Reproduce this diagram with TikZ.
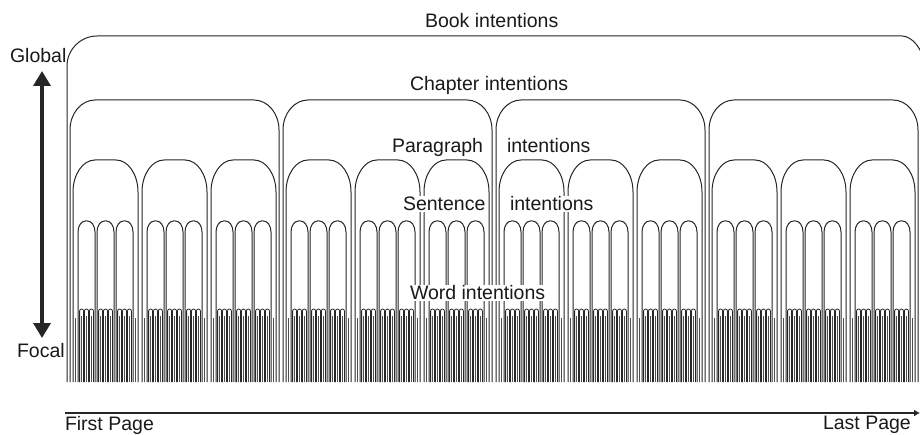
\documentclass[tikz,border=0pt]{standalone}
\usepackage{fontspec}
\newfontfamily\labfont{Liberation Sans}
\usetikzlibrary{arrows.meta}
\newcommand\archshape[7][]{%
  \draw[#1] (#2,#7) -- (#2,#5)
    .. controls (#2,{#5-0.552*(#5-#4)}) and ({#2+0.448*#6},#4) .. ({#2+#6},#4)
    -- ({#3-#6},#4)
    .. controls ({#3-0.448*#6},#4) and (#3,{#5-0.552*(#5-#4)}) .. (#3,#5)
    -- (#3,#7);}
\begin{document}
\begin{tikzpicture}[x=1pt,y=-1pt,
  archline/.style={draw=black!85,line width=1pt},
  wordline/.style={draw=black!85,line width=0.8pt},
  lab/.style={font=\labfont\fontsize{19.5}{23}\selectfont,text=black!90,inner sep=1pt,outer sep=0pt,anchor=base west},
  labw/.style={lab,fill=white}]
\useasboundingbox (0,0) rectangle (920,435);
% book arch
\draw[archline] (67,382) -- (67,66)
  .. controls (67,{66-0.552*30}) and ({67+0.448*30},36) .. (97,36)
  -- (902,36)
  .. controls ({902+0.448*22},36) and (924,{66-0.552*30}) .. (924,66) -- (924,382);
% chapters, paragraphs, sentences, words
\foreach \c in {0,...,3} {
  \pgfmathsetmacro\cl{70+213*\c}
  \pgfmathsetmacro\cr{\cl+209}
  \archshape[archline]{\cl}{\cr}{100}{130}{25}{382}
  \foreach \p in {0,1,2} {
    \pgfmathsetmacro\pl{\cl+3+69*\p}
    \pgfmathsetmacro\pr{\pl+65}
    \archshape[archline]{\pl}{\pr}{160}{192}{22}{382}
    \pgfmathsetmacro\ga{\pl+2.5}
    \pgfmathsetmacro\gb{\pr-2.2}
    \draw[wordline,black!70] (\ga,318) -- (\ga,382);
    \draw[wordline,black!70] (\gb,318) -- (\gb,382);
    \foreach \s in {0,1,2} {
      \pgfmathsetmacro\sl{\pl+5+19*\s}
      \pgfmathsetmacro\sr{\sl+17}
      \archshape[archline]{\sl}{\sr}{221}{232}{7.5}{382}
      \foreach \w in {0,1,2} {
        \pgfmathsetmacro\wl{\sl+1.6+4.9*\w}
        \pgfmathsetmacro\wr{\wl+4}
        \archshape[wordline]{\wl}{\wr}{309}{311}{2}{382}
        \pgfmathsetmacro\wm{\wl+2}
        \draw[wordline,black!70] (\wm,316) -- (\wm,382);
      }
    }
  }
}
% labels
\node[lab] (book) at (424,28) {Book intentions};
\node[lab] (global) at (9,63) {Global};
\node[labw] (chapter) at (409,91) {Chapter intentions};
\node[labw] (para) at (391,153) {Paragraph};
\node[labw] (parai) at (506,153) {intentions};
\node[labw] (sent) at (402,211) {Sentence};
\node[labw] (senti) at (509,211) {intentions};
\node[labw] (word) at (409,300) {Word intentions};
\node[lab] (focal) at (16,357) {Focal};
\node[lab] (first) at (64,430) {First Page};
\node[lab] (last) at (822,429) {Last Page};
% global-focal arrow
\coordinate (gtop) at (42,71);
\coordinate (gbot) at (42,338);
\draw[line width=3.5pt,draw=black!85,
  {Triangle[width=17pt,length=15pt]}-{Triangle[width=17pt,length=15pt]}] (gtop) -- (gbot);
% page axis
\coordinate (axl) at (65,413);
\coordinate (axr) at (920,413);
\draw[line width=2pt,draw=black!85,-{Latex[length=6pt,width=7pt]}] (axl) -- (axr);
\end{tikzpicture}
\end{document}
